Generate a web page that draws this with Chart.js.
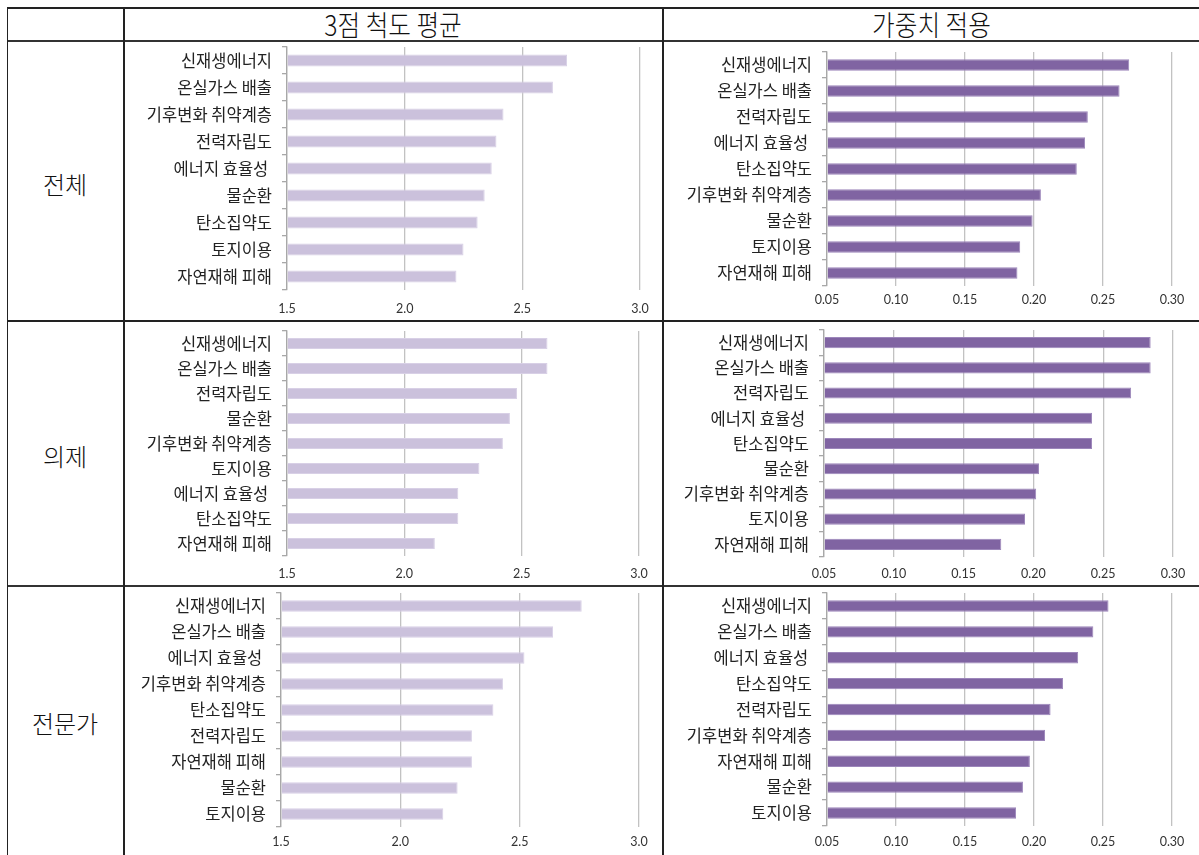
<!DOCTYPE html>
<html><head><meta charset="utf-8">
<script src="https://cdn.jsdelivr.net/npm/chart.js@4.4.1/dist/chart.umd.min.js"></script>
<style>
html,body{margin:0;padding:0;background:#fff;width:1199px;height:855px;overflow:hidden;font-family:"Noto Sans CJK KR","Noto Sans",sans-serif;}
.ln{position:absolute;background:#222;}
.hd{position:absolute;top:7px;height:34px;display:flex;align-items:center;justify-content:center;font-size:28px;color:#111;font-family:"Noto Sans CJK KR";font-weight:300;}
.hd span{display:inline-block;transform:scaleX(0.88);}
.rl{position:absolute;left:7px;width:116px;display:flex;align-items:center;justify-content:center;font-size:24px;color:#111;font-family:"Noto Sans CJK KR";font-weight:300;}
canvas{position:absolute;}
</style></head><body>
<div class="ln" style="left:7px;top:7px;width:1192px;height:2px;"></div>
<div class="ln" style="left:7px;top:40px;width:1192px;height:2px;background:#333"></div>
<div class="ln" style="left:7px;top:320px;width:1192px;height:1.5px;"></div>
<div class="ln" style="left:7px;top:585px;width:1192px;height:1.5px;background:#333"></div>
<div class="ln" style="left:7px;top:7px;width:1px;height:848px;"></div>
<div class="ln" style="left:123px;top:7px;width:1.5px;height:848px;"></div>
<div class="ln" style="left:662px;top:7px;width:1.5px;height:848px;"></div>
<div class="hd" style="left:124px;width:538px;"><span>3점 척도 평균</span></div>
<div class="hd" style="left:663px;width:536px;"><span>가중치 적용</span></div>
<div class="rl" style="top:41px;height:284px;">전체</div>
<div class="rl" style="top:320px;height:270px;">의제</div>
<div class="rl" style="top:585px;height:274px;">전문가</div>

<canvas id="c1"></canvas><canvas id="c2"></canvas><canvas id="c3"></canvas>
<canvas id="c4"></canvas><canvas id="c5"></canvas><canvas id="c6"></canvas>
<script>
// ---- data ----
const meanTicks = ['1.5','2.0','2.5','3.0'];
const weightTicks = ['0.05','0.10','0.15','0.20','0.25','0.30'];

const totalMeanCats = ['신재생에너지','온실가스 배출','기후변화 취약계층','전력자립도','에너지 효율성 ','물순환','탄소집약도','토지이용','자연재해 피해'];
const totalMeanVals = [2.69,2.63,2.42,2.39,2.37,2.34,2.31,2.25,2.22];

const totalWeightCats = ['신재생에너지','온실가스 배출','전력자립도','에너지 효율성 ','탄소집약도','기후변화 취약계층','물순환','토지이용','자연재해 피해'];
const totalWeightVals = [0.269,0.262,0.239,0.237,0.231,0.205,0.199,0.190,0.188];

const agendaMeanCats = ['신재생에너지','온실가스 배출','전력자립도','물순환','기후변화 취약계층','토지이용','에너지 효율성 ','탄소집약도','자연재해 피해'];
const agendaMeanVals = [2.61,2.61,2.48,2.45,2.42,2.32,2.23,2.23,2.13];

const agendaWeightCats = ['신재생에너지','온실가스 배출','전력자립도','에너지 효율성 ','탄소집약도','물순환','기후변화 취약계층','토지이용','자연재해 피해'];
const agendaWeightVals = [0.284,0.284,0.270,0.242,0.242,0.204,0.202,0.194,0.177];

const expertMeanCats = ['신재생에너지','온실가스 배출','에너지 효율성 ','기후변화 취약계층','탄소집약도','전력자립도','자연재해 피해','물순환','토지이용'];
const expertMeanVals = [2.76,2.64,2.52,2.43,2.39,2.30,2.30,2.24,2.18];

const expertWeightCats = ['신재생에너지','온실가스 배출','에너지 효율성 ','탄소집약도','전력자립도','기후변화 취약계층','자연재해 피해','물순환','토지이용'];
const expertWeightVals = [0.254,0.243,0.232,0.221,0.212,0.208,0.197,0.192,0.187];

// ---- layout (plot area boxes) ----
function makeChart(id, cats, vals, tickLabels, fill, border, g) {
  const cv = document.getElementById(id);
  const padTop = 26, padRight = 45;
  const yW = g.plotLeft - g.left;
  const xH = 34;
  const W = g.plotRight - g.left + padRight;
  const H = padTop + (g.plotBottom - g.plotTop) + xH;
  cv.width = W; cv.height = H;
  cv.style.left = g.left + 'px'; cv.style.top = (g.plotTop - padTop) + 'px';
  cv.style.width = W + 'px'; cv.style.height = H + 'px';
  const tickVals = tickLabels.map(Number);
  new Chart(cv, {
    type: 'bar',
    data: { labels: cats, datasets: [{ data: vals, backgroundColor: fill, borderColor: border, borderWidth: 1, base: tickVals[0], barPercentage: 0.44, categoryPercentage: 1 }] },
    options: {
      indexAxis: 'y', responsive: false, animation: false, devicePixelRatio: 1,
      layout: { padding: { top: padTop, right: padRight, left: 0, bottom: 0 } },
      plugins: { legend: { display: false }, tooltip: { enabled: false } },
      scales: {
        x: {
          min: tickVals[0], max: tickVals[tickVals.length - 1],
          afterBuildTicks: s => { s.ticks = tickVals.map(v => ({ value: v })); },
          afterFit: s => { s.height = xH; },
          border: { display: false },
          grid: { color: '#C2C2C2', lineWidth: 1.3, drawTicks: false },
          ticks: { padding: g.tickY - g.plotBottom - 7.5, color: '#333', font: { family: 'Lato', size: 12.5 }, callback: (v, i) => tickLabels[i], maxRotation: 0 }
        },
        y: {
          afterFit: s => { s.width = yW; },
          border: { display: true, color: '#A8A8A8', width: 1.3 },
          grid: { drawOnChartArea: false, drawTicks: true, tickLength: 5, color: '#A8A8A8', lineWidth: 1.3 },
          ticks: { padding: 10, color: '#222', font: { family: 'Noto Sans CJK KR', size: 16.5 } }
        }
      }
    }
  });
}
const light = '#CBC1DC', lightB = '#D8D0E6', dark = '#8064A2', darkB = '#9C86BA';
makeChart('c1', totalMeanCats, totalMeanVals, meanTicks, light, lightB, {left:125, plotLeft:287, plotRight:640, plotTop:46.5, plotBottom:289.5, tickY:308});
makeChart('c2', totalWeightCats, totalWeightVals, weightTicks, dark, darkB, {left:664, plotLeft:827, plotRight:1172, plotTop:52, plotBottom:286, tickY:300});
makeChart('c3', agendaMeanCats, agendaMeanVals, meanTicks, light, lightB, {left:125, plotLeft:287, plotRight:639, plotTop:331, plotBottom:556, tickY:574});
makeChart('c4', agendaWeightCats, agendaWeightVals, weightTicks, dark, darkB, {left:664, plotLeft:824, plotRight:1173, plotTop:330, plotBottom:557, tickY:574});
makeChart('c5', expertMeanCats, expertMeanVals, meanTicks, light, lightB, {left:125, plotLeft:281, plotRight:639, plotTop:593, plotBottom:827, tickY:842});
makeChart('c6', expertWeightCats, expertWeightVals, weightTicks, dark, darkB, {left:664, plotLeft:827, plotRight:1172, plotTop:593, plotBottom:826, tickY:842});
</script>
</body></html>
